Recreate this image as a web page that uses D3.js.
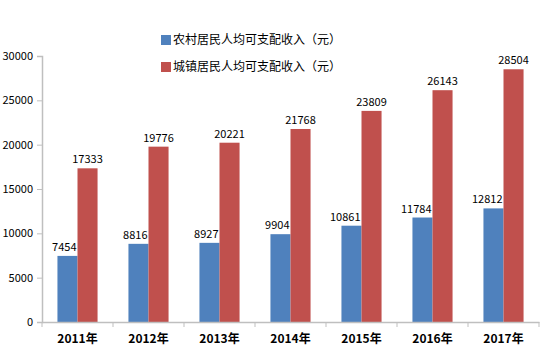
<!DOCTYPE html>
<html>
<head>
<meta charset="utf-8">
<script src="https://cdn.jsdelivr.net/npm/d3@7"></script>
<style>
  body { margin: 0; background: #fff; }
  text { font-family: "Noto Sans CJK SC", "DejaVu Sans", sans-serif; }
</style>
</head>
<body>
<div id="chart"></div>
<script>
const years = ['2011年', '2012年', '2013年', '2014年', '2015年', '2016年', '2017年'];
const rural = [7454, 8816, 8927, 9904, 10861, 11784, 12812];
const urban = [17333, 19776, 20221, 21768, 23809, 26143, 28504];
const seriesNames = ['农村居民人均可支配收入（元）', '城镇居民人均可支配收入（元）'];
const colors = ['#4F81BD', '#C0504D'];
const yTicks = [0, 5000, 10000, 15000, 20000, 25000, 30000];

const width = 552;
const height = 352;
const margin = {top: 56, right: 13, bottom: 30, left: 42};

const svg = d3.select('#chart').append('svg')
    .attr('width', width)
    .attr('height', height);

// scales
const x = d3.scaleBand()
    .domain(years)
    .range([margin.left, width - margin.right]);

// two bars per year, ~20px each, centred in the band
const xs = d3.scaleBand()
    .domain([0, 1])
    .range([0, x.bandwidth()])
    .paddingOuter(0.77)
    .paddingInner(0);

const y = d3.scaleLinear()
    .domain([0, 30000])
    .range([height - margin.bottom, margin.top]);

// y axis
svg.append('g')
    .attr('transform', `translate(${margin.left},0)`)
    .call(d3.axisLeft(y).tickValues(yTicks).tickSize(5).tickFormat(d3.format('d')))
    .call(g => g.select('.domain').attr('stroke', '#bfbfbf').attr('stroke-width', 1.5))
    .call(g => g.selectAll('.tick line').attr('stroke', '#bfbfbf'))
    .call(g => g.selectAll('.tick text')
        .attr('x', -9)
        .attr('fill', '#000')
        .attr('font-size', '11px'));

// bars
const groups = svg.append('g')
    .selectAll('g')
    .data(years)
    .join('g')
        .attr('transform', d => `translate(${x(d)},0)`);

const series = [rural, urban];

series.forEach((vals, s) => {
    groups.append('rect')
        .attr('x', xs(s))
        .attr('width', xs.bandwidth())
        .attr('y', (d, i) => y(vals[i]))
        .attr('height', (d, i) => y(0) - y(vals[i]))
        .attr('fill', colors[s]);
});

// value labels, drawn after the bars so nothing covers them
series.forEach((vals, s) => {
    groups.append('text')
        .attr('x', xs(s) + xs.bandwidth() / 2)
        .attr('y', (d, i) => y(vals[i]) - 5)
        .attr('text-anchor', 'middle')
        .attr('font-size', '11px')
        .attr('fill', '#000')
        .text((d, i) => vals[i])
        .each(function() {
            // rural labels are pushed left so they stop at the urban bar
            if (s != 0) return;
            const w = this.getComputedTextLength();
            const cx = xs(0) + xs.bandwidth() / 2;
            const limit = xs(1) - 1;
            if (cx + w / 2 > limit) {
                d3.select(this).attr('x', limit - w / 2);
            }
        });
});

// x axis
svg.append('g')
    .attr('transform', `translate(0,${y(0)})`)
    .call(d3.axisBottom(x).tickSize(0).tickSizeOuter(0))
    .call(g => g.select('.domain').attr('stroke', '#bfbfbf').attr('stroke-width', 1.5))
    .call(g => g.selectAll('.tick text')
        .attr('y', 12)
        .attr('fill', '#000')
        .attr('font-size', '12px')
        .attr('font-weight', 'bold'));

// tick marks between categories
const edges = years.map(d => x(d)).concat([x(years[years.length - 1]) + x.bandwidth()]);
svg.append('g')
    .selectAll('line')
    .data(edges)
    .join('line')
        .attr('x1', d => d)
        .attr('x2', d => d)
        .attr('y1', y(0))
        .attr('y2', y(0) + 5)
        .attr('stroke', '#bfbfbf');

// legend
const legend = svg.append('g')
    .attr('transform', 'translate(161,35)');

legend.selectAll('rect')
    .data(seriesNames)
    .join('rect')
        .attr('x', 0)
        .attr('y', (d, i) => i * 27)
        .attr('width', 10)
        .attr('height', 10)
        .attr('fill', (d, i) => colors[i]);

legend.selectAll('text')
    .data(seriesNames)
    .join('text')
        .attr('x', 12)
        .attr('y', (d, i) => i * 27 + 5)
        .attr('dy', '0.35em')
        .attr('font-size', '12px')
        .attr('fill', '#000')
        .text(d => d);
</script>
</body>
</html>
